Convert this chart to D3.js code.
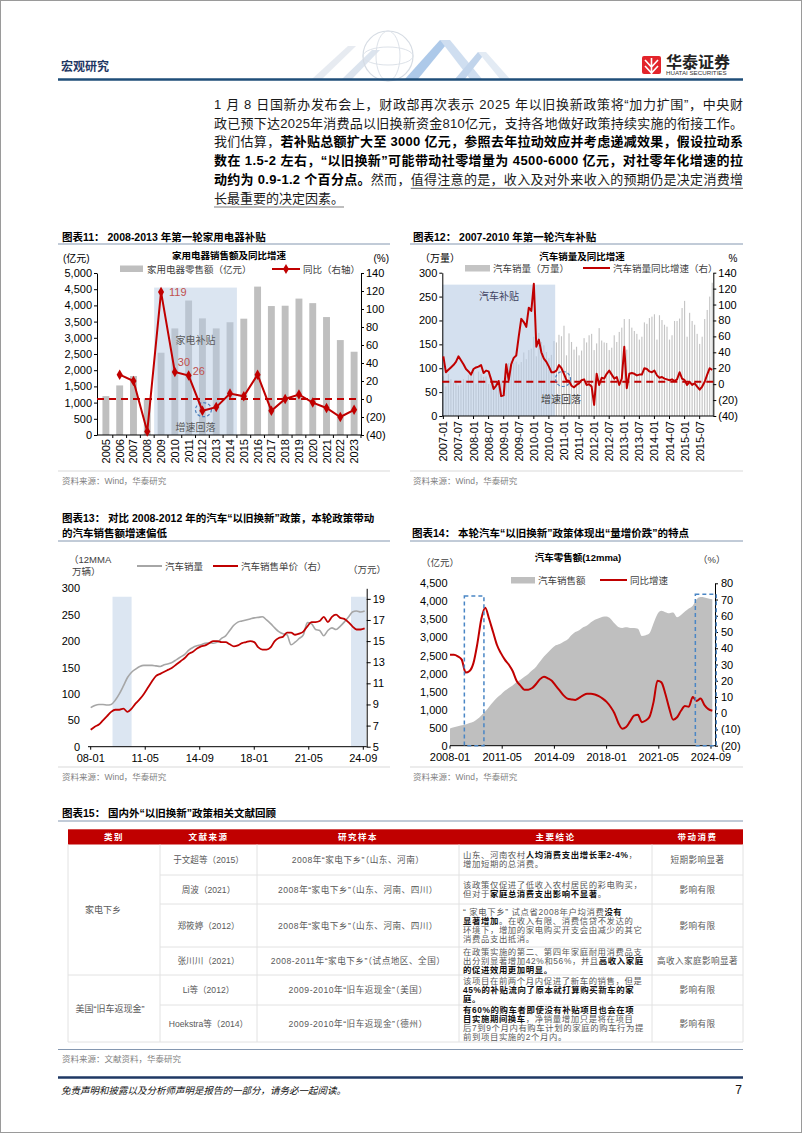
<!DOCTYPE html>
<html><head><meta charset="utf-8"><title>宏观研究</title>
<script src="https://cdn.jsdelivr.net/npm/d3@7/dist/d3.min.js"></script>
<style>html,body{margin:0;padding:0;background:#fff;}</style>
</head><body><div id="page"></div>
<script>
// ---------------- DATA ----------------
const paraLines = [
  [["1 月 8 日国新办发布会上，财政部再次表示 2025 年以旧换新政策将“加力扩围”，中央财",0]],
  [["政已预下达2025年消费品以旧换新资金810亿元，支持各地做好政策持续实施的衔接工作。",0]],
  [["我们估算，",0],["若补贴总额扩大至 3000 亿元，参照去年拉动效应并考虑递减效果，假设拉动系",1]],
  [["数在 1.5-2 左右，“以旧换新”可能带动社零增量为 4500-6000 亿元，对社零年化增速的拉",1]],
  [["动约为 0.9-1.2 个百分点。",1],["然而，",0],["值得注意的是，收入及对外来收入的预期仍是决定消费增",2]],
  [["长最重要的决定因素。",2]]
];

// Chart 11
const c11Years = ["2005","2006","2007","2008","2009","2010","2011","2012","2013","2014","2015","2016","2017","2018","2019","2020","2021","2022","2023"];
const c11Sales = [1200,1530,1820,1130,2540,3290,4150,3600,3290,3480,3590,4580,3980,3990,4210,4070,3640,2930,2570];
const c11Yoy = [null,27,20,-36,119,30,26,-13,-9,6,3,27,-13,0,5,-4,-10,-20,-12];
const c11Labels = [["2009","119"],["2010","30"],["2011","26"]];
const c11Shade = ["2009","2014"];
const c11ShadeTop = 4550;

// Chart 12
const c12Months = d3.range(108).map(i => `${2007+Math.floor(i/12)}-${String(i%12+1).padStart(2,"0")}`);
const c12Sales = [
  83,62,88,77,70,75,64,66,77,75,86,88,
  93,68,93,88,82,83,67,67,75,71,64,74,
  74,83,111,115,112,114,108,113,133,119,138,141,
  166,125,174,155,148,134,121,128,157,154,170,167,
  189,127,173,155,139,145,127,137,163,154,169,172,
  138,152,184,158,154,153,138,143,169,155,176,185,
  203,139,203,185,178,172,160,166,196,193,205,208,
  213,160,211,201,191,187,160,169,199,199,204,226,
  241,166,216,199,191,172,151,166,203,222,250,279];
const c12Yoy = [
  35,15,18,21,24,28,35,30,25,19,16,12,
  19,21,22,24,14,17,16,6,-6,-2,4,-15,
  -14,25,5,25,33,36,60,82,78,72,96,92,
  126,47,56,40,32,28,22,15,15,17,24,20,
  13,5,4,-2,-4,-1,1,5,6,-1,0,-3,
  -26,13,-1,8,7,13,17,12,7,9,-1,7,
  47,-5,13,14,13,11,12,12,20,19,16,15,
  17,11,8,9,7,6,5,6,4,6,15,7,
  5,-1,3,-1,1,-3,-7,-3,3,12,20,18];
const c12Shade = ["2007-01","2010-09"];
const c12ShadeTop = 275;
const c12Ref = 3;

// Chart 13 (quarterly points, 12MMA)
const c13Dates = d3.range(0,202,3).map(m => `${2008+Math.floor(m/12)}-${String(m%12+1).padStart(2,"0")}`);
const c13Sales = [74,78,80,80,79,80,88,100,115,131,
  141,147,152,154,154,154,153,152,155,157,
  160,165,170,175,183,188,191,193,196,197,
  196,198,205,210,220,230,236,238,240,242,
  244,245,246,240,233,225,218,214,212,193,
  198,205,212,235,233,222,220,210,220,225,
  222,228,236,245,255,257,255,257];
const c13Price = [6.6,6.9,7.1,7.5,7.9,8.3,8.5,8.5,8.6,8.3,
  8.6,9.1,9.5,10.0,10.6,11.2,11.7,11.9,12.1,12.3,
  12.5,12.8,13.1,13.4,13.8,14.0,14.3,14.5,14.6,14.8,
  15.0,15.0,14.9,14.9,14.7,14.5,14.6,14.8,14.9,15.0,
  14.9,14.4,14.2,14.2,14.4,15.0,15.3,15.4,15.8,15.8,
  15.6,15.7,15.9,16.4,16.8,16.8,16.9,17.3,16.8,17.3,
  17.5,17.2,17.1,16.8,16.4,16.1,16.1,16.2];
const c13Shades = [["2009-05","2010-07"],["2023-12","2024-11"]];
const c13ShadeTop = 284;
const c13Ticks = [["2008-01","08-01"],["2011-05","11-05"],["2014-09","14-09"],["2018-01","18-01"],["2021-05","21-05"],["2024-09","24-09"]];

// Chart 14 (quarterly points, 12MMA)
const c14Dates = c13Dates;
const c14Sales = [480,510,540,570,590,630,665,740,840,950,
  1080,1210,1330,1420,1520,1600,1670,1760,1830,1910,
  1990,2090,2190,2330,2470,2580,2690,2780,2820,2880,
  2940,3060,3150,3200,3280,3330,3420,3490,3530,3570,
  3580,3520,3390,3290,3260,3280,3260,3260,3240,3040,
  3060,3120,3390,3650,3740,3700,3670,3690,3560,3620,
  3720,3800,3880,4060,4120,4110,4080,4060];
const c14Yoy = [36,36,35,33,25,26,31,43,58,65,
  58,50,42,37,33,30,26,20,17,14.5,
  14.5,15.5,18,21,22.5,21.5,20,17,14,11,
  9,8.5,8.2,9.5,11,12,12,11.5,10.5,9,
  7,4,0,-6,-9.5,-8.5,-5,-1.5,-1,-5.5,
  -4.5,-2,7,20,19,12,3,-4,-2.5,1.5,
  4.4,4,10,7.5,9,5,2.5,1.5];
const c14Boxes = [["2008-12","2010-03",4150],["2023-09","2025-01",4200]];
const c14Ticks = ["2008-01","2011-05","2014-09","2018-01","2021-05","2024-09"];

// Table 15
const tHead = ["类别","文献来源","研究样本","主要结论","带动消费"];
const tGroups = [["家电下乡",0,4],["美国“旧车返现金”",4,6]];
const tSrc = ["于文超等（2015）","周波（2021）","郑筱婷（2012）","张川川（2021）","Li等（2012）","Hoekstra等（2014）"];
const tSample = ["2008年“家电下乡”（山东、河南）","2008年“家电下乡”（山东、河南、四川）","2008年“家电下乡”（山东、河南、四川）","2008-2011年“家电下乡”（试点地区、全国）","2009-2010年“旧车返现金”（美国）","2009-2010年“旧车返现金”（德州）"];
const tEffect = ["短期影响显著","影响有限","影响有限","高收入家庭影响显著","影响有限","影响有限"];
const tConcl = [
  [[["山东、河南农村",0],["人均消费支出增长率2-4%",1],["，",0]],[["增加短期的总消费。",0]]],
  [[["该政策仅促进了低收入农村居民的彩电购买，",0]],[["但对于",0],["家庭总消费支出影响不显著",1],["。",0]]],
  [[["“ 家电下乡” 试点省2008年户均消费",0],["没有",1]],[["显著增加",1],["。在收入有限、消费信贷不发达的",0]],[["环境下，增加的家电购买开支会由减少的其它",0]],[["消费品支出抵消。",0]]],
  [[["在政策实施的第二、第四年家庭耐用消费品支",0]],[["出分别显著增加42%和56%，并且",0],["高收入家庭",1]],[["的促进效用更加明显。",1]]],
  [[["该项目在前两个月内促进了新车的销售，但是",0]],[["45%的补贴流向了原本就打算购买新车的家",1]],[["庭。",1]]],
  [[["有60%的购车者即使没有补贴项目也会在项",1]],[["目实施期间换车",1],["，净销量增加只是将在项目",0]],[["后7到9个月内有购车计划的家庭的购车行为提",0]],[["前到项目实施的2个月内。",0]]]
];

// ---------------- HELPERS ----------------
const FONT = '"Liberation Sans","Noto Sans CJK SC",sans-serif';
const svg = d3.select("#page").append("svg").attr("width",802).attr("height",1133).style("display","block");
function T(g,x,y,s,o={}){
  const t=g.append("text").attr("x",x).attr("y",y)
    .attr("font-family",o.ff||FONT).attr("font-size",o.fs||10)
    .attr("fill",o.fill||"#000").attr("text-anchor",o.anchor||"start")
    .attr("dominant-baseline","central").text(s);
  if(o.bold) t.attr("font-weight","bold");
  if(o.italic) t.attr("font-style","italic");
  if(o.ls) t.attr("letter-spacing",o.ls);
  if(o.rotate!=null) t.attr("transform",`rotate(${o.rotate},${x},${y})`);
  return t;
}
function L(g,x1,y1,x2,y2,stroke,w,dash){
  const l=g.append("line").attr("x1",x1).attr("y1",y1).attr("x2",x2).attr("y2",y2).attr("stroke",stroke).attr("stroke-width",w||1);
  if(dash) l.attr("stroke-dasharray",dash);
  return l;
}
const paren = v => v<0 ? `(${-v})` : d3.format(",")(v);
function styleAxis(sel,fs){
  sel.attr("font-family",FONT).attr("font-size",fs||11);
  sel.selectAll("text").attr("fill","#000");
  sel.selectAll("line").attr("stroke","#000");
  sel.selectAll(".domain").attr("stroke","#000");
}
const mIdx = s => { const [y,m]=s.split("-").map(Number); return (y-2008)*12+(m-1); };
const RED="#c00000", GRAY="#bfbfbf", SRC="#7f7f7f", TL="#8497b0";

// page frame
svg.append("rect").attr("x",0.5).attr("y",0.5).attr("width",801).attr("height",1132).attr("fill","none").attr("stroke","#9a9a9a");

// ---------------- HEADER ----------------
{
  const g=svg.append("g");
  const gg=g.append("g").attr("opacity",0.85);
  gg.append("polygon").attr("points","312,79 348,46 356,46 322,79").attr("fill","#e3e8ef");
  gg.append("polygon").attr("points","342,79 372,50 380,50 352,79").attr("fill","#d6e0ec");
  gg.append("circle").attr("cx",388).attr("cy",56).attr("r",25).attr("fill","none").attr("stroke","#cfd6df").attr("stroke-width",1.2);
  gg.append("ellipse").attr("cx",388).attr("cy",56).attr("rx",12).attr("ry",25).attr("fill","none").attr("stroke","#d8dee6");
  gg.append("ellipse").attr("cx",388).attr("cy",56).attr("rx",25).attr("ry",9).attr("fill","none").attr("stroke","#d8dee6");
  gg.append("polygon").attr("points","405,79 440,40 450,40 418,79").attr("fill","#9fc0e6");
  gg.append("polygon").attr("points","440,40 450,40 482,79 470,79").attr("fill","#c7d9ee");
  gg.append("polygon").attr("points","455,79 478,52 486,52 465,79").attr("fill","#b7cde8");
  gg.append("polygon").attr("points","478,52 486,52 510,79 500,79").attr("fill","#dfe8f3");
  T(g,61,67,"宏观研究",{fs:12,bold:true,fill:"#1f3864"});
  g.append("rect").attr("x",642).attr("y",56).attr("width",19).attr("height",18).attr("rx",2).attr("fill","#e3242b");
  g.append("path").attr("d","M645,60 L651.5,67 L658,60 M645,66 L651.5,73 L658,66 M651.5,58 L651.5,74").attr("stroke","#fff").attr("stroke-width",1.6).attr("fill","none");
  T(g,666,62,"华泰证券",{fs:16,bold:true,fill:"#222"});
  T(g,666,72.5,"HUATAI SECURITIES",{fs:6.2,fill:"#333"});
  L(g,58,79.5,743,79.5,"#1f4e79",2.5);
}

// ---------------- PARAGRAPH ----------------
{
  const g=svg.append("g");
  paraLines.forEach((line,i)=>{
    const y=104+18.7*i;
    const t=g.append("text").attr("x",214).attr("y",y).attr("font-family",FONT).attr("font-size",13)
      .attr("dominant-baseline","central").attr("fill","#1a1a1a");
    line.forEach(([s,f])=>{
      const sp=t.append("tspan").text(s);
      if(f===1) sp.attr("font-weight","bold").attr("fill","#000");
    });
    if(i<5) t.attr("textLength",529).attr("lengthAdjust","spacing");
    const node=t.node(); let idx=0;
    line.forEach(([s,f])=>{
      if(f===2){
        const a=node.getStartPositionOfChar(idx).x, b=node.getEndPositionOfChar(idx+s.length-1).x;
        L(g,a,y+9.5,b,y+9.5,"#7f7f7f",1.2);
      }
      idx+=s.length;
    });
  });
}

// ---------------- CHART 11 ----------------
{
  const g=svg.append("g");
  T(g,62,237,"图表11：  2008-2013 年第一轮家用电器补贴",{fs:10.5,bold:true});
  L(g,58,244,390,244,TL,1);
  T(g,229,255,"家用电器销售额及同比增速",{fs:9.5,bold:true,anchor:"middle"});
  T(g,63,258,"(亿元)",{fs:10});
  T(g,389,258,"(%)",{fs:10,anchor:"end"});
  const x=d3.scaleBand().domain(c11Years).range([99,361]).paddingInner(0.5).paddingOuter(0.25);
  const cx=d=>x(d)+x.bandwidth()/2;
  const yL=d3.scaleLinear().domain([0,5000]).range([435,273]);
  const yR=d3.scaleLinear().domain([-40,140]).range([435,273]);
  g.append("g").selectAll("rect").data(c11Years).join("rect")
    .attr("x",d=>x(d)).attr("width",x.bandwidth())
    .attr("y",(d,i)=>yL(c11Sales[i])).attr("height",(d,i)=>yL(0)-yL(c11Sales[i])).attr("fill",GRAY);
  const s0=cx(c11Shade[0])-x.step()/2, s1=cx(c11Shade[1])+x.step()/2;
  g.append("rect").attr("x",s0).attr("y",yL(c11ShadeTop)).attr("width",s1-s0).attr("height",yL(0)-yL(c11ShadeTop))
    .attr("fill","#b8cce4").attr("opacity",0.5);
  T(g,(s0+s1)/2,340,"家电补贴",{fs:10,fill:"#595959",anchor:"middle"});
  T(g,(s0+s1)/2,427,"增速回落",{fs:10,fill:"#595959",anchor:"middle"});
  const aL=g.append("g").attr("transform","translate(97,0)").call(d3.axisLeft(yL).tickValues(d3.range(0,5001,500)).tickFormat(d3.format(",")).tickSize(3).tickSizeOuter(0).tickPadding(2));
  styleAxis(aL,11);
  const aR=g.append("g").attr("transform","translate(361,0)").call(d3.axisRight(yR).tickValues(d3.range(-40,141,20)).tickFormat(paren).tickSize(3).tickSizeOuter(0).tickPadding(2));
  styleAxis(aR,11);
  L(g,97,435,361,435,"#000",1);
  g.append("g").selectAll("line").data(c11Years).join("line")
    .attr("x1",d=>cx(d)+x.step()/2).attr("x2",d=>cx(d)+x.step()/2).attr("y1",435).attr("y2",438).attr("stroke","#000");
  g.append("g").selectAll("text").data(c11Years).join("text")
    .attr("x",d=>cx(d)).attr("y",439).attr("transform",d=>`rotate(-90,${cx(d)},439)`)
    .attr("text-anchor","end").attr("dominant-baseline","central").attr("font-family",FONT).attr("font-size",11).text(d=>d);
  L(g,97,yR(0),361,yR(0),RED,2,"7,5");
  g.append("ellipse").attr("cx",cx("2012")+1).attr("cy",yR(c11Yoy[7])-1).attr("rx",8).attr("ry",7)
    .attr("fill","none").attr("stroke","#4f81bd").attr("stroke-width",1.2).attr("stroke-dasharray","3,2");
  const pts=c11Years.map((d,i)=>[d,c11Yoy[i]]).filter(p=>p[1]!=null);
  g.append("path").datum(pts).attr("fill","none").attr("stroke",RED).attr("stroke-width",2)
    .attr("d",d3.line().x(p=>cx(p[0])).y(p=>yR(p[1])));
  g.append("g").selectAll("path").data(pts).join("path")
    .attr("transform",p=>`translate(${cx(p[0])},${yR(p[1])})`).attr("d",d3.symbol(d3.symbolDiamond,32)).attr("fill",RED);
  c11Labels.forEach(([yr,lab])=>{
    const i=c11Years.indexOf(yr), v=c11Yoy[i];
    const off = yr==="2009" ? [8,0] : yr==="2010" ? [3,-10] : [4,-5];
    T(g,cx(yr)+off[0],yR(v)+off[1],lab,{fs:11,fill:"#c0504d"});
  });
  g.append("rect").attr("x",120).attr("y",265.5).attr("width",23).attr("height",6.5).attr("fill",GRAY);
  T(g,147,269,"家用电器零售额（亿元）",{fs:9.5,fill:"#404040"});
  L(g,272,269,300,269,RED,2);
  g.append("path").attr("transform","translate(286,269)").attr("d",d3.symbol(d3.symbolDiamond,30)).attr("fill",RED);
  T(g,303,269,"同比（右轴）",{fs:9.5,fill:"#404040"});
  L(g,58,471,390,471,"#d9d9d9",1);
  T(g,62,481,"资料来源：Wind，华泰研究",{fs:8.5,fill:SRC});
}

// ---------------- CHART 12 ----------------
{
  const g=svg.append("g");
  T(g,413,237,"图表12：  2007-2010 年第一轮汽车补贴",{fs:10.5,bold:true});
  L(g,410,244,743,244,TL,1);
  T(g,582,256,"汽车销量及同比增速",{fs:9.5,bold:true,anchor:"middle"});
  T(g,420,258,"（万量）",{fs:10});
  T(g,733,258,"%",{fs:10,anchor:"middle"});
  const x=d3.scaleBand().domain(c12Months).range([442.3,713.3]).paddingInner(0.55).paddingOuter(0.2);
  const cx=d=>x(d)+x.bandwidth()/2;
  const yL=d3.scaleLinear().domain([0,300]).range([416,272.7]);
  const yR=d3.scaleLinear().domain([-40,140]).range([416,272.7]);
  g.append("g").selectAll("rect").data(c12Months).join("rect")
    .attr("x",d=>x(d)).attr("width",x.bandwidth())
    .attr("y",(d,i)=>yL(c12Sales[i])).attr("height",(d,i)=>yL(0)-yL(c12Sales[i])).attr("fill","#c4c4c4");
  const s0=442.3, s1=cx(c12Shade[1])+x.step()/2;
  g.append("rect").attr("x",s0).attr("y",yL(c12ShadeTop)).attr("width",s1-s0).attr("height",yL(0)-yL(c12ShadeTop))
    .attr("fill","#b8cce4").attr("opacity",0.6);
  T(g,499,296,"汽车补贴",{fs:10,fill:"#404060",anchor:"middle"});
  T(g,561,399,"增速回落",{fs:10,fill:"#404040",anchor:"middle"});
  const aL=g.append("g").attr("transform","translate(442.3,0)").call(d3.axisLeft(yL).tickValues(d3.range(0,301,50)).tickSize(3).tickSizeOuter(0).tickPadding(2));
  styleAxis(aL,11);
  const aR=g.append("g").attr("transform","translate(713.3,0)").call(d3.axisRight(yR).tickValues(d3.range(-40,141,20)).tickFormat(paren).tickSize(3).tickSizeOuter(0).tickPadding(2));
  styleAxis(aR,11);
  L(g,442.3,416,713.3,416,"#000",1);
  const lab=c12Months.filter((d,i)=>i%6===0);
  g.append("g").selectAll("line").data(lab).join("line")
    .attr("x1",d=>cx(d)).attr("x2",d=>cx(d)).attr("y1",416).attr("y2",419).attr("stroke","#000");
  g.append("g").selectAll("text").data(lab).join("text")
    .attr("x",d=>cx(d)).attr("y",421).attr("transform",d=>`rotate(-90,${cx(d)},421)`)
    .attr("text-anchor","end").attr("dominant-baseline","central").attr("font-family",FONT).attr("font-size",11).text(d=>d);
  L(g,442.3,yR(c12Ref),713.3,yR(c12Ref),RED,2,"7,5");
  g.append("ellipse").attr("cx",563).attr("cy",379).attr("rx",7.5).attr("ry",7.5)
    .attr("fill","none").attr("stroke","#4f81bd").attr("stroke-width",1.2).attr("stroke-dasharray","3,2");
  g.append("path").datum(c12Months.map((d,i)=>[d,c12Yoy[i]])).attr("fill","none").attr("stroke",RED).attr("stroke-width",2)
    .attr("stroke-linejoin","round").attr("d",d3.line().x(p=>cx(p[0])).y(p=>yR(p[1])));
  g.append("rect").attr("x",465).attr("y",265).attr("width",25).attr("height",6.5).attr("fill","#c4c4c4");
  T(g,493,268,"汽车销量（万量）",{fs:9.5,fill:"#404040"});
  L(g,583,268,610,268,RED,2);
  T(g,613,268,"汽车销量同比增速（右）",{fs:9.5,fill:"#404040"});
  L(g,410,471,743,471,"#d9d9d9",1);
  T(g,413,481,"资料来源：Wind，华泰研究",{fs:8.5,fill:SRC});
}

// ---------------- CHART 13 ----------------
{
  const g=svg.append("g");
  T(g,62,518,"图表13：  对比 2008-2012 年的汽车“以旧换新”政策，本轮政策带动",{fs:10.5,bold:true});
  T(g,62,533,"的汽车销售额增速偏低",{fs:10.5,bold:true});
  L(g,58,541,390,541,TL,1);
  const x=d3.scaleLinear().domain([0,200]).range([90.7,363.3]);
  const yL=d3.scaleLinear().domain([0,300]).range([746.7,588.3]);
  const yR=d3.scaleLinear().domain([5,20]).range([746.7,588.3]);
  c13Shades.forEach(([a,b])=>{
    const x0=x(mIdx(a)), x1=Math.min(x(mIdx(b)),366.7);
    g.append("rect").attr("x",x0).attr("y",yL(c13ShadeTop)).attr("width",x1-x0).attr("height",yL(0)-yL(c13ShadeTop)).attr("fill","#dce6f2");
  });
  const aL=g.append("g").attr("transform","translate(88,0)").call(d3.axisLeft(yL).tickValues(d3.range(0,301,50)).tickSize(0).tickPadding(8));
  styleAxis(aL,11); aL.select(".domain").remove();
  const aR=g.append("g").attr("transform","translate(366.7,0)").call(d3.axisRight(yR).tickValues(d3.range(5,20,2)).tickSize(4).tickSizeOuter(0).tickPadding(2));
  styleAxis(aR,11);
  L(g,88,746.7,366.7,746.7,"#000",1);
  g.append("g").selectAll("line").data(c13Ticks).join("line")
    .attr("x1",d=>x(mIdx(d[0]))).attr("x2",d=>x(mIdx(d[0]))).attr("y1",746.7).attr("y2",749.7).attr("stroke","#000");
  g.append("g").selectAll("text").data(c13Ticks).join("text")
    .attr("x",d=>x(mIdx(d[0]))).attr("y",758).attr("text-anchor","middle").attr("dominant-baseline","central")
    .attr("font-family",FONT).attr("font-size",11).text(d=>d[1]);
  const ln=(arr,ys)=>d3.line().x((d,i)=>x(mIdx(c13Dates[i]))).y(d=>ys(d)).curve(d3.curveMonotoneX)(arr);
  g.append("path").attr("d",ln(c13Sales,yL)).attr("fill","none").attr("stroke","#a6a6a6").attr("stroke-width",1.6);
  g.append("path").attr("d",ln(c13Price,yR)).attr("fill","none").attr("stroke",RED).attr("stroke-width",1.8);
  T(g,69,559,"（12MMA",{fs:9.5,fill:"#404040"});
  T(g,72,571,"万辆）",{fs:9.5,fill:"#404040"});
  T(g,348,569,"（万元）",{fs:9.5,fill:"#404040"});
  L(g,137,566,162,566,"#a6a6a6",2);
  T(g,165,566,"汽车销量",{fs:9.5,fill:"#404040"});
  L(g,213,566,238,566,RED,2);
  T(g,241,566,"汽车销售单价（右）",{fs:9.5,fill:"#404040"});
  L(g,58,767,390,767,"#d9d9d9",1);
  T(g,62,777,"资料来源：Wind，华泰研究",{fs:8.5,fill:SRC});
}

// ---------------- CHART 14 ----------------
{
  const g=svg.append("g");
  T(g,412,533,"图表14：  本轮汽车“以旧换新”政策体现出“量增价跌”的特点",{fs:10.5,bold:true});
  L(g,410,541,743,541,TL,1);
  T(g,578,557,"汽车零售额(12mma)",{fs:9.5,bold:true,anchor:"middle"});
  T(g,421,562,"（亿元）",{fs:9.5,fill:"#404040"});
  T(g,698,559,"（%）",{fs:9.5,fill:"#404040"});
  const x=d3.scaleLinear().domain([0,200]).range([450,711]);
  const yL=d3.scaleLinear().domain([0,4500]).range([745.7,583.3]);
  const yR=d3.scaleLinear().domain([-20,80]).range([745.7,583.3]);
  g.append("path").attr("d",d3.area().x((d,i)=>x(mIdx(c14Dates[i]))).y0(yL(0)).y1(d=>yL(d)).curve(d3.curveMonotoneX)(c14Sales)).attr("fill",GRAY);
  const aL=g.append("g").attr("transform","translate(450,0)").call(d3.axisLeft(yL).tickValues(d3.range(0,4501,500)).tickFormat(d3.format(",")).tickSize(0).tickPadding(2.5));
  styleAxis(aL,11); aL.select(".domain").remove();
  const aR=g.append("g").attr("transform","translate(715,0)").call(d3.axisRight(yR).tickValues(d3.range(-20,81,10)).tickFormat(paren).tickSize(3).tickSizeOuter(0).tickPadding(3));
  styleAxis(aR,11);
  L(g,450,745.7,715,745.7,"#000",1);
  g.append("g").selectAll("line").data(c14Ticks).join("line")
    .attr("x1",d=>x(mIdx(d))).attr("x2",d=>x(mIdx(d))).attr("y1",745.7).attr("y2",748.7).attr("stroke","#000");
  g.append("g").selectAll("text").data(c14Ticks).join("text")
    .attr("x",d=>x(mIdx(d))).attr("y",757).attr("text-anchor","middle").attr("dominant-baseline","central")
    .attr("font-family",FONT).attr("font-size",11).text(d=>d);
  g.append("path").attr("d",d3.line().x((d,i)=>x(mIdx(c14Dates[i]))).y(d=>yR(d)).curve(d3.curveMonotoneX)(c14Yoy))
    .attr("fill","none").attr("stroke",RED).attr("stroke-width",2);
  c14Boxes.forEach(([a,b,top])=>{
    const x0=x(mIdx(a)), x1=x(mIdx(b));
    g.append("rect").attr("x",x0).attr("y",yL(top)).attr("width",x1-x0).attr("height",yL(0)-yL(top))
      .attr("fill","none").attr("stroke","#4a86c5").attr("stroke-width",1.5).attr("stroke-dasharray","4,3");
  });
  g.append("rect").attr("x",511).attr("y",577).attr("width",24).attr("height",6.5).attr("fill",GRAY);
  T(g,538,580,"汽车销售额",{fs:9.5,fill:"#404040"});
  L(g,600,580,627,580,RED,2);
  T(g,630,580,"同比增速",{fs:9.5,fill:"#404040"});
  L(g,410,767,743,767,"#d9d9d9",1);
  T(g,413,777,"资料来源：Wind，华泰研究",{fs:8.5,fill:SRC});
}

// ---------------- TABLE 15 ----------------
{
  const g=svg.append("g");
  const cols=[68,160,257,459,652,743];
  const rowY=[844.5,875,904,947,975,1005,1042];
  const LH=9.3;
  T(g,62,813,"图表15：  国内外“以旧换新”政策相关文献回顾",{fs:10.5,bold:true});
  L(g,58,821,743,821,TL,1);
  g.append("rect").attr("x",cols[0]).attr("y",829.3).attr("width",cols[5]-cols[0]).attr("height",15.2).attr("fill","#c00000");
  tHead.forEach((h,i)=>T(g,(cols[i]+cols[i+1])/2,837,h,{fs:8.5,bold:true,fill:"#fff",anchor:"middle",ls:1.5}));
  const BC="#e2e2e2";
  [0,1,2,3,4,5].forEach(i=>L(g,cols[i],844.5,cols[i],1042,BC,1));
  rowY.slice(1).forEach((y,r)=>{
    const full = (r+1===4) || (r+1===6);
    L(g, full?cols[0]:cols[1], y, cols[5], y, BC, 1);
  });
  tGroups.forEach(([name,a,b])=>{
    const y=(rowY[a]+rowY[b])/2;
    T(g, a===0?103:110, y, name,{fs:9,fill:"#595959",anchor:"middle"});
  });
  tSrc.forEach((s,i)=>{
    const y=(rowY[i]+rowY[i+1])/2;
    T(g,(cols[1]+cols[2])/2,y,s,{fs:8.6,fill:"#595959",anchor:"middle"});
    T(g,(cols[2]+cols[3])/2,y,tSample[i],{fs:8.6,fill:"#595959",anchor:"middle",ls:0.5});
    T(g,(cols[4]+cols[5])/2,y,tEffect[i],{fs:8.6,fill:"#595959",anchor:"middle",ls:0.4});
    const n=tConcl[i].length, y0=y-(n-1)*LH/2;
    tConcl[i].forEach((line,j)=>{
      const t=g.append("text").attr("x",463).attr("y",y0+LH*j)
        .attr("font-family",FONT).attr("font-size",8.4).attr("letter-spacing",0.6).attr("dominant-baseline","central").attr("fill","#595959");
      line.forEach(([s,f])=>{ const sp=t.append("tspan").text(s); if(f) sp.attr("font-weight","bold").attr("fill","#111"); });
    });
  });
  L(g,58,1049.5,743,1049.5,TL,1);
  T(g,62,1059,"资料来源：文献资料，华泰研究",{fs:8.5,fill:SRC});
}

// ---------------- FOOTER ----------------
{
  const g=svg.append("g");
  L(g,58,1077.5,743,1077.5,"#1f3864",2.5);
  T(g,61,1090,"免责声明和披露以及分析师声明是报告的一部分，请务必一起阅读。",{fs:9.5,italic:true,fill:"#111"});
  T(g,742,1090,"7",{fs:12,anchor:"end",fill:"#111"});
}
</script></body></html>
